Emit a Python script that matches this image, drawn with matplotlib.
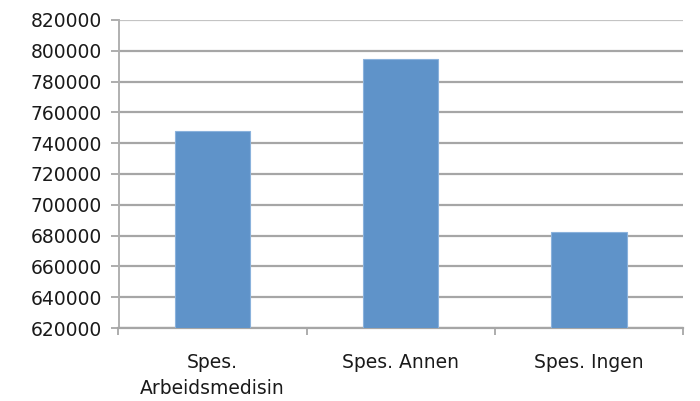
import matplotlib
matplotlib.use("Agg")
import matplotlib.pyplot as plt
import numpy as np

categories = ["Spes.\nArbeidsmedisin", "Spes. Annen", "Spes. Ingen"]
values = [747600, 794800, 682500]
yticks = list(range(620000, 820001, 20000))

plt.rcParams['font.family'] = ['DejaVu Sans']

fig = plt.figure(figsize=(7.0, 4.01), dpi=100)
ax = fig.add_axes([118.5 / 700, 1 - 328 / 401, (683 - 118.5) / 700, (328 - 20) / 401])

x = np.arange(len(categories))
ax.bar(x, values, width=0.4, color="#5f93c9", edgecolor="#8ab2dc", linewidth=0.8, zorder=3)

ax.set_ylim(620000, 820000)
ax.set_xlim(-0.5, len(categories) - 0.5)
ax.set_yticks(yticks)
ax.set_yticklabels([str(v) for v in yticks], fontsize=13.5, color="#1a1a1a")

ax.set_xticks(x)
ax.set_xticklabels(categories, fontsize=13.5, color="#1a1a1a", linespacing=1.45)
ax.tick_params(axis='x', length=0, pad=18)
ax.set_xticks(np.arange(-0.5, len(categories), 1.0), minor=True)
ax.tick_params(axis='x', which='minor', length=5, color="#a0a0a0", width=1.2)
ax.tick_params(axis='y', length=6, color="#a0a0a0", width=1.2, pad=6)

ax.grid(axis='y', color="#a6a6a6", linewidth=1.6, zorder=0)
gl = ax.get_ygridlines()
gl[-1].set_color("#c4c4c4")
for s in ['top', 'right']:
    ax.spines[s].set_visible(False)
ax.spines['left'].set_color("#b0b0b0")
ax.spines['left'].set_linewidth(1.4)
ax.spines['bottom'].set_color("#a6a6a6")
ax.spines['bottom'].set_linewidth(1.6)

fig.savefig("out.png", dpi=100)
